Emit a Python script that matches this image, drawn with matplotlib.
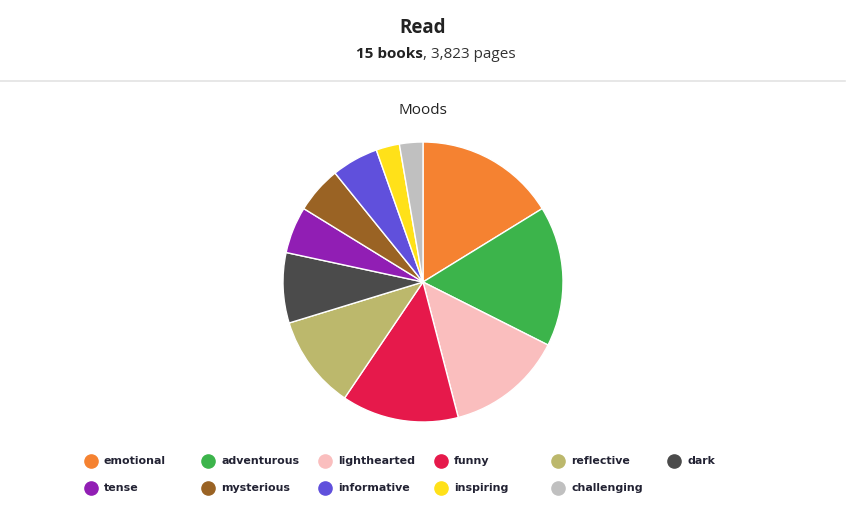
import matplotlib
matplotlib.use("Agg")
import matplotlib.pyplot as plt
from matplotlib.lines import Line2D

moods = ["emotional", "adventurous", "lighthearted", "funny", "reflective", "dark",
         "tense", "mysterious", "informative", "inspiring", "challenging"]
counts = [6, 6, 5, 5, 4, 3, 2, 2, 2, 1, 1]
colors = ["#F58231", "#3CB44B", "#FABEBE", "#E6194B", "#BCB86C", "#4B4B4B",
          "#911EB4", "#9A6324", "#6050DC", "#FFE119", "#C0C0C0"]

W, H = 859, 518
fig = plt.figure(figsize=(W / 100, H / 100), dpi=100)
fig.patch.set_facecolor("white")

def fx(px):
    return px / W

def fy(py):
    return 1 - py / H

# Header
fig.text(fx(423), fy(28), "Read", ha="center", va="center", fontsize=13.5,
         family="Open Sans", color="#222222", fontweight="bold")
fig.text(fx(423), fy(54), "15 books", ha="right", va="center", fontsize=11,
         family="Open Sans", color="#222222", fontweight="bold")
fig.text(fx(423), fy(54), ", 3,823 pages", ha="left", va="center", fontsize=11,
         family="Open Sans", color="#333333")
fig.add_artist(Line2D([0, fx(845)], [fy(81), fy(81)], color="#E3E3E3", lw=1.2))
fig.text(fx(423), fy(110), "Moods", ha="center", va="center", fontsize=11,
         family="Open Sans", color="#222222")

# Pie
cx, cy, r = 423, 282, 140
ax = fig.add_axes([fx(cx - r), fy(cy + r), 2 * r / W, 2 * r / H])
ax.pie(counts, colors=colors, startangle=90, counterclock=False, radius=1,
       wedgeprops=dict(edgecolor="white", linewidth=1))
ax.set_xlim(-1, 1)
ax.set_ylim(-1, 1)
ax.set_aspect("auto")
ax.axis("off")

# Legend
xs = [91, 208, 325, 441, 558, 674]
ys = [461, 488]
for i, (m, c) in enumerate(zip(moods, colors)):
    row, col = divmod(i, 6)
    x, y = xs[col], ys[row]
    fig.add_artist(Line2D([fx(x)], [fy(y)], marker="o", markersize=9.5,
                          markerfacecolor=c, markeredgecolor=c, linestyle="none"))
    fig.text(fx(x + 13), fy(y), m, ha="left", va="center", fontsize=7.9,
             family="DejaVu Sans", fontweight="bold", color="#222233")

fig.savefig("out.png", dpi=100, facecolor="white")
